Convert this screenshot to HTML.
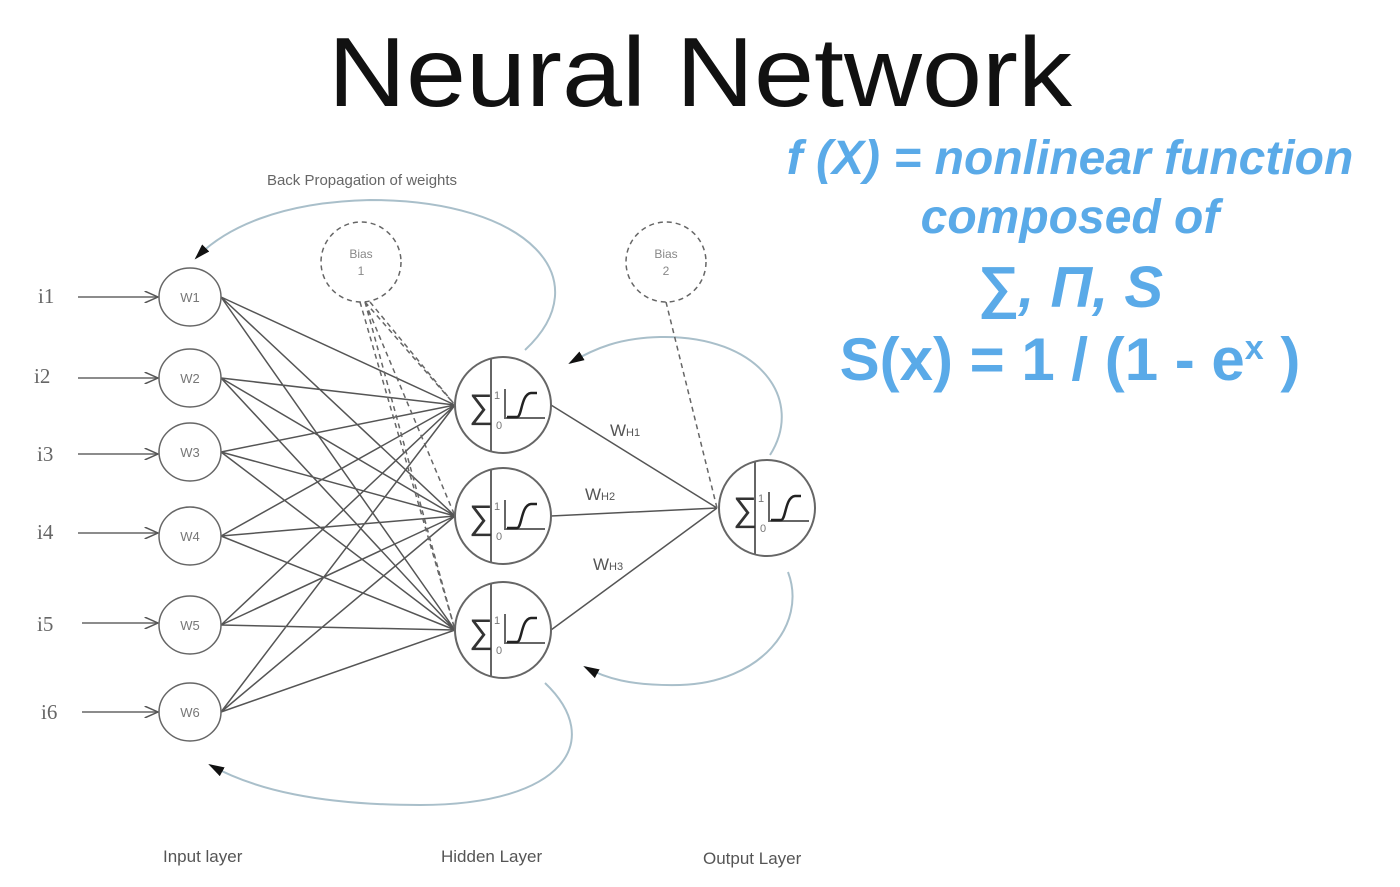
<!DOCTYPE html>
<html><head><style>
body{margin:0;background:#fff;width:1400px;height:887px;overflow:hidden;font-family:"Liberation Sans",sans-serif}
.b{position:absolute;color:#5aaae8;font-weight:bold;font-style:italic;text-align:center;white-space:nowrap}
</style></head><body>
<svg width="1400" height="887" style="position:absolute;left:0;top:0" font-family="Liberation Sans, DejaVu Sans, sans-serif">
<defs>
<marker id="a" markerWidth="10" markerHeight="8" refX="9" refY="4" orient="auto"><path d="M0,0 L9,4 L0,8" fill="none" stroke="#555" stroke-width="1"/></marker>
<marker id="t" markerWidth="16" markerHeight="10" refX="14" refY="5" orient="auto" markerUnits="userSpaceOnUse"><path d="M0,0 L16,5 L0,10z" fill="#111"/></marker>
</defs>
<text x="700" y="106" font-size="98" text-anchor="middle" fill="#111" textLength="744" lengthAdjust="spacingAndGlyphs">Neural Network</text>
<text x="362" y="185" font-size="15" text-anchor="middle" fill="#666">Back Propagation of weights</text>
<g fill="none" stroke="#a9bfca" stroke-width="2">
<path d="M525 350 C600 280 530 200 370 200 C280 202 225 228 196 258" marker-end="url(#t)"/>
<path d="M770 455 C805 400 760 335 660 337 C620 338 595 348 570 363" marker-end="url(#t)"/>
<path d="M788 572 C808 625 760 683 680 685 C630 686 605 678 585 667" marker-end="url(#t)"/>
<path d="M545 683 C605 740 565 805 420 805 C320 805 255 790 210 765" marker-end="url(#t)"/>
</g>
<g stroke="#555" stroke-width="1.5" fill="none">
<path d="M221 297L455 405M221 297L455 516M221 297L455 630
M221 378L455 405M221 378L455 516M221 378L455 630
M221 452L455 405M221 452L455 516M221 452L455 630
M221 536L455 405M221 536L455 516M221 536L455 630
M221 625L455 405M221 625L455 516M221 625L455 630
M221 712L455 405M221 712L455 516M221 712L455 630"/>
<path d="M551 405L717 508M551 516L717 508M551 630L717 508"/>
<g stroke-dasharray="5,4" stroke="#666">
<path d="M365 302L455 405M365 302L455 516M365 302L455 630M370 302L455 405M360 302L455 630"/>
<path d="M666 302L717 508"/>
<circle cx="361" cy="262" r="40"/><circle cx="666" cy="262" r="40"/>
</g>
<g stroke="#666">
<path d="M78 297H158" marker-end="url(#a)"/><path d="M78 378H158" marker-end="url(#a)"/><path d="M78 454H158" marker-end="url(#a)"/><path d="M78 533H158" marker-end="url(#a)"/><path d="M82 623H158" marker-end="url(#a)"/><path d="M82 712H158" marker-end="url(#a)"/>
<ellipse cx="190" cy="297" rx="31" ry="29"/><ellipse cx="190" cy="378" rx="31" ry="29"/><ellipse cx="190" cy="452" rx="31" ry="29"/><ellipse cx="190" cy="536" rx="31" ry="29"/><ellipse cx="190" cy="625" rx="31" ry="29"/><ellipse cx="190" cy="712" rx="31" ry="29"/>
</g>
</g>
<g font-size="12" fill="#888" text-anchor="middle"><text x="361" y="258">Bias</text><text x="361" y="275">1</text><text x="666" y="258">Bias</text><text x="666" y="275">2</text></g>
<g font-size="13" fill="#777" text-anchor="middle">
<text x="190" y="302">W1</text><text x="190" y="383">W2</text><text x="190" y="457">W3</text><text x="190" y="541">W4</text><text x="190" y="630">W5</text><text x="190" y="717">W6</text></g>
<g font-size="21" fill="#666" font-family="Liberation Serif, serif">
<text x="38" y="303">i1</text><text x="34" y="383">i2</text><text x="37" y="461">i3</text><text x="37" y="539">i4</text><text x="37" y="631">i5</text><text x="41" y="719">i6</text></g>
<g font-size="17" fill="#555"><text x="610" y="436">W<tspan font-size="11">H1</tspan></text><text x="585" y="500">W<tspan font-size="11">H2</tspan></text><text x="593" y="570">W<tspan font-size="11">H3</tspan></text></g>
<defs><g id="nd">
<circle r="48" fill="#fff" stroke="#666" stroke-width="2"/>
<line x1="-12" y1="-47" x2="-12" y2="47" stroke="#666" stroke-width="2"/>
<text x="-34" y="13" font-size="34" fill="#333">∑</text>
<text x="-9" y="-6" font-size="11" fill="#777">1</text><text x="-7" y="24" font-size="11" fill="#777">0</text>
<path d="M2 -16 V13 H42" fill="none" stroke="#666" stroke-width="2"/>
<path d="M4 12 H14 C19 12 18 -11 28 -12 H34" fill="none" stroke="#222" stroke-width="2.5"/>
</g></defs>
<use href="#nd" x="503" y="405"/><use href="#nd" x="503" y="516"/><use href="#nd" x="503" y="630"/><use href="#nd" x="767" y="508"/>
<g font-size="17" fill="#555"><text x="163" y="862">Input layer</text><text x="441" y="862">Hidden Layer</text><text x="703" y="864">Output Layer</text></g>
</svg>
<div class="b" style="left:760px;top:131px;width:620px;font-size:48px">f (X) = nonlinear function</div>
<div class="b" style="left:760px;top:190px;width:620px;font-size:48px">composed of</div>
<div class="b" style="left:760px;top:254px;width:620px;font-size:58px">∑, Π, S</div>
<div class="b" style="left:760px;top:325px;width:620px;font-size:60px;font-style:normal">S(x) = 1 / (1 - e<sup style="font-size:34px">x</sup> )</div>
</body></html>
